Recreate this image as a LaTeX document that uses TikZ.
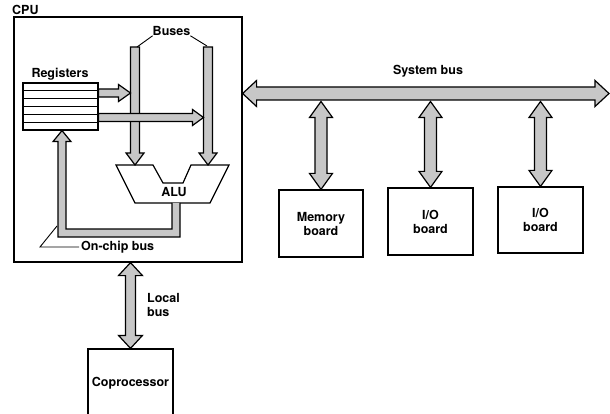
\documentclass[tikz,border=0pt]{standalone}
\usepackage{fontspec}
\setmainfont{TeX Gyre Heros}
\usetikzlibrary{calc}
% single-headed fat arrow: [style] start end halfshaft halfhead headlength
\newcommand\fatarrow[6][]{%
  \coordinate (fa-q) at ($(#3)!#6!(#2)$);
  \draw[bus,#1] ($(#2)!#4!90:(#3)$) -- ($(fa-q)!#4!-90:(#2)$) -- ($(fa-q)!#5!-90:(#2)$)
    -- (#3) -- ($(fa-q)!#5!90:(#2)$) -- ($(fa-q)!#4!90:(#2)$) -- ($(#2)!#4!-90:(#3)$) -- cycle;}
% double-headed fat arrow
\newcommand\fatdarrow[6][]{%
  \coordinate (fa-p) at ($(#2)!#6!(#3)$);
  \coordinate (fa-q) at ($(#3)!#6!(#2)$);
  \draw[bus,#1] (#2) -- ($(fa-p)!#5!90:(#3)$) -- ($(fa-p)!#4!90:(#3)$) -- ($(fa-q)!#4!-90:(#2)$)
    -- ($(fa-q)!#5!-90:(#2)$) -- (#3) -- ($(fa-q)!#5!90:(#2)$) -- ($(fa-q)!#4!90:(#2)$)
    -- ($(fa-p)!#4!-90:(#3)$) -- ($(fa-p)!#5!-90:(#3)$) -- cycle;}
\begin{document}
\begin{tikzpicture}[x=1pt,y=-1pt,
  box/.style={draw, line width=1.2pt, inner sep=0pt, align=center,
    font=\fontsize{12.5}{14}\bfseries\selectfont},
  bus/.style={draw, line width=1.2pt, fill=black!22, line join=miter},
  leader/.style={draw, line width=0.9pt},
  lbl/.style={font=\fontsize{12.5}{13.5}\bfseries\selectfont, inner sep=0pt, align=left}]
\useasboundingbox (0,0) rectangle (610,414);
% CPU
\node[box, minimum width=228pt, minimum height=245pt] (cpu) at (128,139.5) {};
\node[lbl, anchor=south west] (cpulbl) at (12,15) {CPU};
% registers
\node[box, minimum width=75pt, minimum height=47pt] (reg) at (60.5,106.5) {};
\foreach \i in {1,...,5}
  \draw[line width=0.9pt] ($(reg.north west)!\i/6!(reg.south west)$) -- ($(reg.north east)!\i/6!(reg.south east)$);
\node[lbl] (reglbl) at (60,74) {Registers};
% ALU
\coordinate (aluA) at (116,165);
\coordinate (aluB) at (153,165);
\coordinate (aluC) at (163,183);
\coordinate (aluD) at (183,183);
\coordinate (aluE) at (191,165);
\coordinate (aluF) at (229,165);
\coordinate (aluG) at (210,203);
\coordinate (aluH) at (135,203);
\draw[line width=1.2pt, fill=white] (aluA) -- (aluB) -- (aluC) -- (aluD) -- (aluE) -- (aluF) -- (aluG) -- (aluH) -- cycle;
\node[lbl] (alulbl) at (174,192) {ALU};
% internal buses
\node[lbl] (buslbl) at (171.5,31) {Buses};
\coordinate (b1top) at (135,47); \coordinate (b1end) at (135,165);
\coordinate (b2top) at (208,47); \coordinate (b2end) at (208,165);
\fatarrow{b1top}{b1end}{4.5pt}{9pt}{12pt}
\fatarrow{b2top}{b2end}{4.5pt}{9pt}{12pt}
\draw[leader] (buslbl.south west) -- ($(b1top)+(2,0)$);
\draw[leader] (buslbl.south east) -- ($(b2top)+(-1,-1)$);
% register arrows
\coordinate (r1end) at (130.5,93); \coordinate (r1start) at (reg.east |- r1end);
\coordinate (r2end) at (203.5,117.5); \coordinate (r2start) at (reg.east |- r2end);
\fatarrow{r1start}{r1end}{4pt}{8.5pt}{12pt}
\fatarrow{r2start}{r2end}{4pt}{8pt}{11pt}
% on-chip bus
\coordinate (oc1) at (176,203);
\coordinate (oc2) at (176,233);
\coordinate (oc3) at (62,233);
\coordinate (oc4) at (reg.south -| oc3);
\draw[bus] ($(oc1)+(-4,0)$) -- ($(oc2)+(-4,-4)$) -- ($(oc3)+(4,-4)$) -- ($(oc4)+(4,11)$)
  -- ($(oc4)+(9,11)$) -- (oc4) -- ($(oc4)+(-9,11)$) -- ($(oc4)+(-4,11)$)
  -- ($(oc3)+(-4,4)$) -- ($(oc2)+(4,4)$) -- ($(oc1)+(4,0)$);
\node[lbl, anchor=west] (oclbl) at (81,247) {On-chip bus};
\coordinate (ocA) at (40,247); \coordinate (ocB) at (57,226);
\draw[leader] ([xshift=-2pt]oclbl.west) -- (ocA) -- (ocB);
% system bus
\coordinate (sbR) at (609,93.5); \coordinate (sbL) at (cpu.east |- sbR);
\fatdarrow{sbL}{sbR}{6.5pt}{13pt}{14pt}
\node[lbl] (sblbl) at (428,71) {System bus};
% boards
\node[box, minimum width=84pt, minimum height=67pt] (mem) at (321,223.5) {Memory\\board};
\node[box, minimum width=85pt, minimum height=67pt] (io1) at (430.5,221.5) {I/O\\board};
\node[box, minimum width=85pt, minimum height=66pt] (io2) at (540.5,220) {I/O\\board};
\coordinate (sbB) at (0,101.5);
\coordinate (m1) at (mem.north |- sbB);
\coordinate (i1) at (io1.north |- sbB);
\coordinate (i2) at (io2.north |- sbB);
\fatdarrow{m1}{mem.north}{6pt}{11.5pt}{16pt}
\fatdarrow{i1}{io1.north}{6pt}{11.5pt}{16pt}
\fatdarrow{i2}{io2.north}{6pt}{11.5pt}{16pt}
% coprocessor
\node[box, minimum width=85pt, minimum height=68pt] (cop) at (130.5,383) {Coprocessor};
\coordinate (lbT) at (cop.north |- cpu.south);
\fatdarrow{lbT}{cop.north}{5pt}{12pt}{13pt}
\node[lbl, anchor=west] (lblbl) at (147,305) {Local\\bus};
\end{tikzpicture}
\end{document}
